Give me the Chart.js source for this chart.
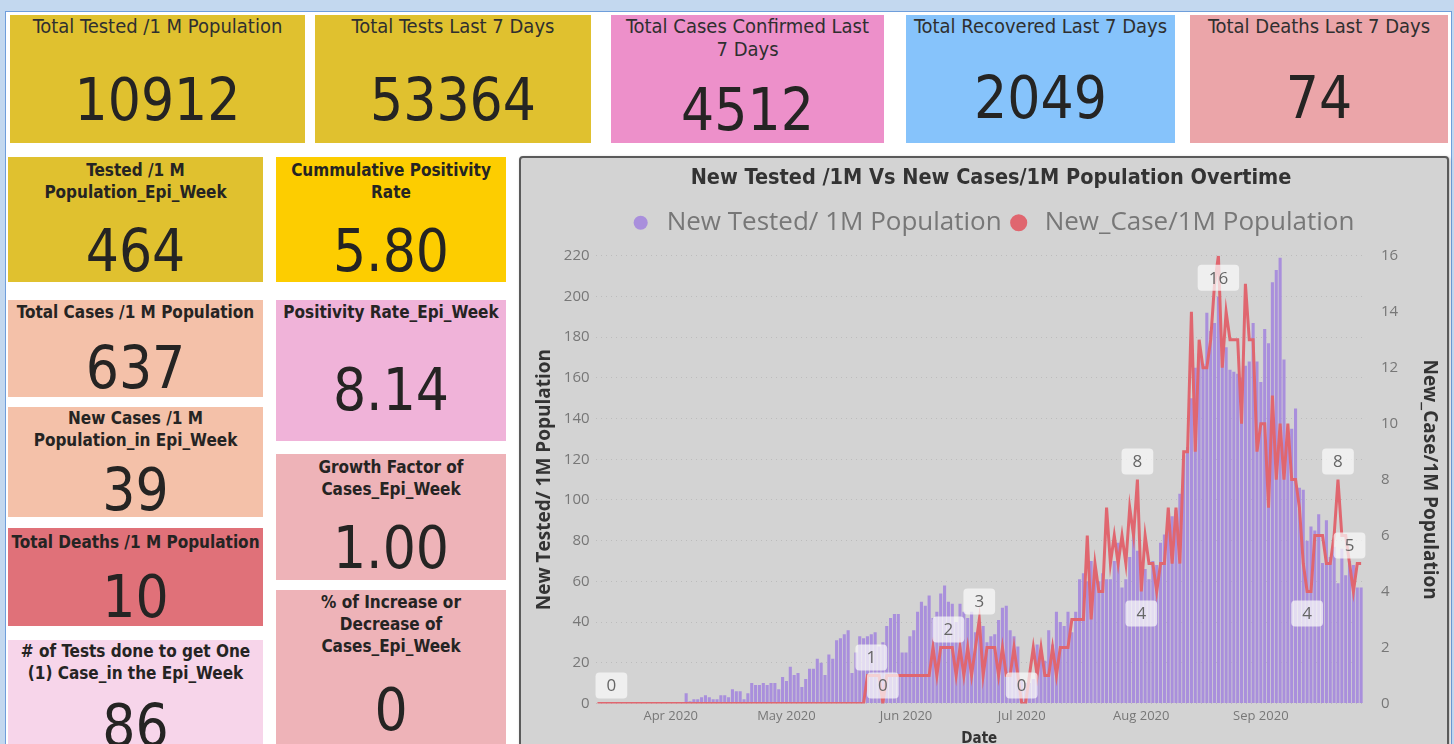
<!DOCTYPE html>
<html>
<head>
<meta charset="utf-8">
<script src="https://cdn.jsdelivr.net/npm/chart.js@4"></script>
<style>
  html, body { margin: 0; padding: 0; }
  body { width: 1454px; height: 744px; overflow: hidden; background: #c3d8ef; position: relative; }
  .page { position: absolute; left: 5px; top: 11px; width: 1445px; height: 740px; background: #fff;
          border-left: 1px solid #6f9edb; border-top: 1px solid #6f9edb; border-right: 1px solid #6f9edb; }
  .card { position: absolute; color: #252423; text-align: center; overflow: hidden;
          font-family: "DejaVu Sans Condensed", "DejaVu Sans", sans-serif; font-stretch: condensed; }
  .card .t { position: absolute; left: 0; right: 0; line-height: 23px; font-size: 20px; color: #2f2f2f; }
  .card .v { position: absolute; left: 0; right: 0; font-size: 58px; line-height: 60px; }
  .r2 .t { font-size: 17px; line-height: 22px; font-weight: 600; color: #252423; }
  .panel { position: absolute; left: 519px; top: 156px; width: 926px; height: 600px; background: #d3d3d3;
           border: 2px solid #5a5a5a; border-radius: 4px; box-shadow: 1px 1px 3px rgba(0,0,0,0.3); }
  .chartbox { position: absolute; left: 2px; top: 2px; width: 928px; height: 588px; }
</style>
</head>
<body>
<div class="page"></div>

<!-- top row -->
<div class="card" style="left:10px;top:15px;width:295px;height:128px;background:#e0c12f">
  <div class="t" style="top:0px">Total Tested /1 M Population</div>
  <div class="v" style="top:55px">10912</div>
</div>
<div class="card" style="left:315px;top:15px;width:276px;height:128px;background:#e0c12f">
  <div class="t" style="top:0px">Total Tests Last 7 Days</div>
  <div class="v" style="top:55px">53364</div>
</div>
<div class="card" style="left:611px;top:15px;width:273px;height:128px;background:#ed90ca">
  <div class="t" style="top:0px">Total Cases Confirmed Last<br>7 Days</div>
  <div class="v" style="top:65px">4512</div>
</div>
<div class="card" style="left:906px;top:15px;width:269px;height:128px;background:#86c3fb">
  <div class="t" style="top:0px">Total Recovered Last 7 Days</div>
  <div class="v" style="top:53px">2049</div>
</div>
<div class="card" style="left:1190px;top:15px;width:258px;height:128px;background:#eba5a9">
  <div class="t" style="top:0px">Total Deaths Last 7 Days</div>
  <div class="v" style="top:53px">74</div>
</div>

<!-- left block -->
<div class="card r2" style="left:8px;top:157px;width:255px;height:125px;background:#e0c12f">
  <div class="t" style="top:2px">Tested /1 M<br>Population_Epi_Week</div>
  <div class="v" style="top:64px">464</div>
</div>
<div class="card r2" style="left:276px;top:157px;width:230px;height:125px;background:#fdcd00">
  <div class="t" style="top:2px">Cummulative Positivity<br>Rate</div>
  <div class="v" style="top:64px">5.80</div>
</div>
<div class="card r2" style="left:8px;top:300px;width:255px;height:97px;background:#f4c1a9">
  <div class="t" style="top:1px">Total Cases /1 M Population</div>
  <div class="v" style="top:38px">637</div>
</div>
<div class="card r2" style="left:276px;top:300px;width:230px;height:141px;background:#f0b3d9">
  <div class="t" style="top:1px">Positivity Rate_Epi_Week</div>
  <div class="v" style="top:60px">8.14</div>
</div>
<div class="card r2" style="left:8px;top:407px;width:255px;height:110px;background:#f4c1a9">
  <div class="t" style="top:0px">New Cases /1 M<br>Population_in Epi_Week</div>
  <div class="v" style="top:53px">39</div>
</div>
<div class="card r2" style="left:276px;top:454px;width:230px;height:126px;background:#eeb3b8">
  <div class="t" style="top:2px">Growth Factor of<br>Cases_Epi_Week</div>
  <div class="v" style="top:64px">1.00</div>
</div>
<div class="card r2" style="left:8px;top:528px;width:255px;height:98px;background:#e07179">
  <div class="t" style="top:3px">Total Deaths /1 M Population</div>
  <div class="v" style="top:39px">10</div>
</div>
<div class="card r2" style="left:276px;top:590px;width:230px;height:160px;background:#eeb3b8">
  <div class="t" style="top:1px">% of Increase or<br>Decrease of<br>Cases_Epi_Week</div>
  <div class="v" style="top:90px">0</div>
</div>
<div class="card r2" style="left:8px;top:640px;width:255px;height:110px;background:#f7d5ea">
  <div class="t" style="top:0px"># of Tests done to get One<br>(1) Case_in the Epi_Week</div>
  <div class="v" style="top:56px">86</div>
</div>

<div class="panel"><div class="chartbox"><canvas id="trend"></canvas></div></div>

<script>
// daily series, first day 2020-03-13
const startDate = [2020, 2, 13];

const tested = [
  // Mar 13 - Apr 4
  null, null, null, null, null, null, null, null, null, null,
  null, null, null, null, null, null, null, null, null, null,
  null, null, null,
  // Apr 5 - Apr 30
  5, 1, 2, 2, 3, 4, 3, 2, 2, 4,
  4, 3, 7, 6, 6, 2, 5, 10, 9, 9,
  10, 9, 10, 10, 7, 13,
  // May 1 - May 31
  11, 18, 14, 15, 8, 12, 17, 17, 22, 20,
  14, 24, 22, 31, 32, 34, 36, 15, 25, 33,
  32, 33, 34, 35, 28, 30, 38, 42, 44, 44,
  25,
  // Jun 1 - Jun 30
  25, 33, 36, 45, 50, 48, 53, 42, 45, 54,
  58, 50, 49, 40, 49, 45, 42, 45, 35, 38,
  38, 30, 33, 34, 41, 47, 48, 36, 33, 28,
  // Jul 1 - Jul 31
  12, 10, 10, 12, 29, 26, 21, 36, 29, 45,
  40, 38, 45, 35, 45, 61, 64, 60, 70, 62,
  60, 64, 61, 61, 70, 79, 57, 61, 72, 85,
  75,
  // Aug 1 - Aug 31
  66, 66, 61, 70, 68, 79, 83, 89, 92, 95,
  103, 122, 126, 150, 165, 172, 167, 192, 183, 187,
  200, 174, 175, 164, 163, 162, 160, 166, 168, 187,
  168,
  // Sep 1 - Sep 27
  158, 184, 177, 207, 213, 219, 169, 131, 135, 145,
  106, 105, 80, 87, 85, 93, 69, 90, 72, 77,
  59, 76, 63, 70, 68, 57, 57
];

const cases = [
  // Mar 13 - May 21
  0, 0, 0, 0, 0, 0, 0, 0, 0, 0,
  0, 0, 0, 0, 0, 0, 0, 0, 0, 0,
  0, 0, 0, 0, 0, 0, 0, 0, 0, 0,
  0, 0, 0, 0, 0, 0, 0, 0, 0, 0,
  0, 0, 0, 0, 0, 0, 0, 0, 0, 0,
  0, 0, 0, 0, 0, 0, 0, 0, 0, 0,
  0, 0, 0, 0, 0, 0, 0, 0, 0, 0,
  // May 22 - Jun 19
  1, 1, 1, 1, 0, 1, 1, 1, 1, 1,
  1, 1, 1, 1, 1, 1, 1, 2, 1, 2,
  2, 2, 2, 1, 2, 1, 2, 1, 2,
  // Jun 20 - Jul 31
  3, 1, 2, 2, 2, 1, 2, 1, 1, 2,
  1, 0, 0, 1, 2, 1, 2, 1, 1, 2,
  1, 2, 2, 2, 3, 3, 3, 3, 6, 3,
  5, 4, 4, 7, 5, 6, 5, 6, 5, 7,
  6, 8,
  // Aug 2 - Aug 31
  4, 6, 5, 5, 4, 5, 5, 7, 5, 7,
  5, 9, 9, 14, 9, 13, 12, 12, 13, 15,
  16, 12, 14, 13, 13, 13, 10, 15, 13, 13,
  9,
  // Sep 1 - Sep 27
  10, 10, 7, 11, 8, 10, 8, 10, 8, 8,
  7, 5, 4, 4, 6, 6, 6, 5, 5, 6,
  8, 6, 6, 5, 4, 5, 5
];

// points that carry a value label, by day index
const labelIdx = [0, 71, 74, 91, 99, 110, 140, 141, 161, 184, 192, 195];

const monthNames = ['Jan', 'Feb', 'Mar', 'Apr', 'May', 'Jun', 'Jul', 'Aug', 'Sep', 'Oct', 'Nov', 'Dec'];

const dates = tested.map((_, i) => new Date(Date.UTC(startDate[0], startDate[1], startDate[2] + i)));
const dateLabels = dates.map(d => d.toISOString().slice(0, 10));

const pointLabels = {
  id: 'pointLabels',
  afterDatasetsDraw(chart) {
    const meta = chart.getDatasetMeta(1);
    const area = chart.chartArea;
    const ctx = chart.ctx;
    ctx.save();
    ctx.font = '17px "Open Sans", sans-serif';
    ctx.textAlign = 'center';
    ctx.textBaseline = 'middle';
    labelIdx.forEach(i => {
      const pt = meta.data[i];
      if (!pt) return;
      const v = cases[i];
      const prev = i > 0 ? cases[i - 1] : v;
      const next = i < cases.length - 1 ? cases[i + 1] : v;
      const isMin = v <= prev && v <= next && (v < prev || v < next);
      const text = String(v);
      const w = ctx.measureText(text).width + 22;
      const h = 26;
      let below = isMin;
      let cy = below ? pt.y + 22 : pt.y - 18;
      if (below && cy + h / 2 > area.bottom) { below = false; cy = pt.y - 18; }
      if (!below && cy - h / 2 < area.top) { cy = pt.y + 22; }
      let cx = Math.max(pt.x, area.left + w / 2);
      ctx.fillStyle = 'rgba(250,250,250,0.72)';
      ctx.beginPath();
      ctx.roundRect(cx - w / 2, cy - h / 2, w, h, 4);
      ctx.fill();
      ctx.fillStyle = '#666';
      ctx.fillText(text, cx, cy + 1);
    });
    ctx.restore();
  }
};

// extra room under the legend
const legendSpacer = {
  id: 'legendSpacer',
  beforeInit(chart) {
    const fit = chart.legend.fit;
    chart.legend.fit = function () {
      fit.bind(chart.legend)();
      this.height += 10;
    };
  }
};

const condensed = '"DejaVu Sans Condensed", "DejaVu Sans", sans-serif';

new Chart(document.getElementById('trend'), {
  type: 'bar',
  data: {
    labels: dateLabels,
    datasets: [
      {
        label: 'New Tested/ 1M Population',
        data: tested,
        backgroundColor: '#a98fdc',
        borderWidth: 0,
        barPercentage: 0.8,
        categoryPercentage: 1.0,
        yAxisID: 'y',
        order: 2
      },
      {
        type: 'line',
        label: 'New_Case/1M Population',
        data: cases,
        borderColor: '#e0666f',
        backgroundColor: '#e0666f',
        borderWidth: 3,
        pointRadius: 0,
        tension: 0,
        yAxisID: 'y1',
        order: 1
      }
    ]
  },
  options: {
    responsive: true,
    maintainAspectRatio: false,
    animation: false,
    layout: { padding: { left: 8, right: 0, top: 6, bottom: 0 } },
    plugins: {
      title: {
        display: true,
        text: 'New Tested /1M Vs New Cases/1M Population Overtime',
        color: '#333',
        font: { family: condensed, size: 21.5, weight: 'bold' },
        padding: { top: 0, bottom: 14 }
      },
      legend: {
        labels: {
          color: '#777',
          font: { family: '"Open Sans", sans-serif', size: 26 },
          usePointStyle: true,
          pointStyle: 'circle',
          boxHeight: 10,
          padding: 4,
          sort: (a, b) => a.datasetIndex - b.datasetIndex
        }
      },
      tooltip: { enabled: false }
    },
    scales: {
      x: {
        offset: true,
        grid: { display: false, drawTicks: false },
        border: { display: false },
        ticks: {
          autoSkip: false,
          maxRotation: 0,
          minRotation: 0,
          color: '#777',
          font: { family: '"Open Sans", sans-serif', size: 13 },
          padding: 5,
          callback(value, index) {
            const d = dates[index];
            return d.getUTCDate() === 1 ? monthNames[d.getUTCMonth()] + ' ' + d.getUTCFullYear() : '';
          }
        },
        title: { display: true, text: 'Date', color: '#333', font: { family: condensed, size: 15, weight: 'bold' }, padding: { top: 1, bottom: 0 } }
      },
      y: {
        position: 'left',
        min: 0,
        max: 220,
        ticks: { stepSize: 20, color: '#777', font: { family: '"Open Sans", sans-serif', size: 15 }, padding: 6 },
        grid: { color: '#bcbcbc', drawTicks: false },
        border: { display: false, dash: [1, 4] },
        title: { display: true, text: 'New Tested/ 1M Population', color: '#333', font: { family: '"Open Sans", sans-serif', size: 19, weight: 'bold' }, padding: 2 }
      },
      y1: {
        position: 'right',
        min: 0,
        max: 16,
        ticks: { stepSize: 2, color: '#777', font: { family: '"Open Sans", sans-serif', size: 15 }, padding: 10 },
        grid: { display: false },
        border: { display: false },
        title: { display: true, text: 'New_Case/1M Population', color: '#333', font: { family: '"Open Sans", sans-serif', size: 19, weight: 'bold' }, padding: 10 }
      }
    }
  },
  plugins: [pointLabels, legendSpacer]
});
</script>
</body>
</html>
